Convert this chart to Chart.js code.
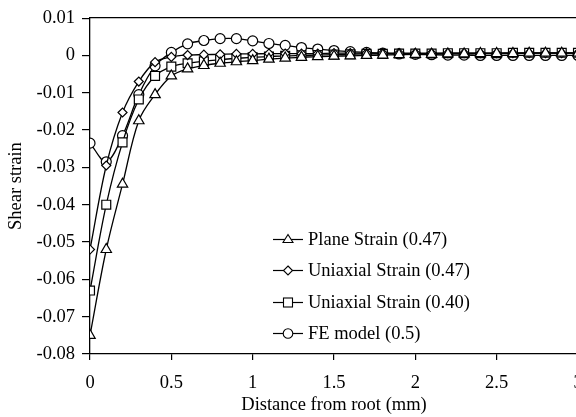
<!DOCTYPE html>
<html>
<head>
<meta charset="utf-8">
<script src="https://cdn.jsdelivr.net/npm/chart.js@4.4.1/dist/chart.umd.min.js"></script>
<style>
  body { margin: 0; overflow: hidden; background: #fff; }
  #wrap { position: relative; width: 600px; height: 417px; }
  #legend { position: absolute; left: 273px; top: 224px; font-family: "Liberation Serif", "Times New Roman", serif; font-size: 18.5px; color: #000; }
  #legend .row { height: 31.3px; display: flex; align-items: center; white-space: nowrap; }
  #legend svg { margin-right: 5px; }
</style>
</head>
<body>
<div id="wrap">
  <canvas id="chart" width="600" height="417"></canvas>
  <div id="legend"></div>
</div>
<script>
// distance from root (mm), every 0.1 mm
const distance = [0, 0.1, 0.2, 0.3, 0.4, 0.5, 0.6, 0.7, 0.8, 0.9, 1.0, 1.1, 1.2, 1.3, 1.4, 1.5,
    1.6, 1.7, 1.8, 1.9, 2.0, 2.1, 2.2, 2.3, 2.4, 2.5, 2.6, 2.7, 2.8, 2.9, 3.0]
const planeStrain = [-0.075, -0.052, -0.0345, -0.0175, -0.0105, -0.0055, -0.0036, -0.0027, -0.0021, -0.0017,
    -0.0014, -0.001, -0.0007, -0.0005, -0.0003, -0.0002, -0.0001, 0, 0.0001, 0.0002, 0.0003,
    0.0003, 0.0004, 0.0004, 0.0005, 0.0005, 0.0005, 0.0006, 0.0006, 0.0006, 0.0006]
const uniaxial47 = [-0.052, -0.0295, -0.0153, -0.007, -0.0018, -0.0004, 0.0001, 0.0002, 0.0003, 0.0004,
    0.0004, 0.0005, 0.0005, 0.0005, 0.0005, 0.0006, 0.0006, 0.0006, 0.0006, 0.0006, 0.0006,
    0.0006, 0.0006, 0.0006, 0.0006, 0.0006, 0.0006, 0.0006, 0.0006, 0.0006, 0.0006]
const uniaxial40 = [-0.063, -0.040, -0.0233, -0.0118, -0.0055, -0.003, -0.0021, -0.0016, -0.0011, -0.0008,
    -0.0005, -0.0003, -0.0001, 0, 0.0001, 0.0002, 0.0003, 0.0004, 0.0004, 0.0005, 0.0005,
    0.0005, 0.0006, 0.0006, 0.0006, 0.0006, 0.0007, 0.0007, 0.0007, 0.0007, 0.0007]
const feModel = [-0.0235, -0.0285, -0.0215, -0.0105, -0.0028, 0.0008, 0.0031, 0.004, 0.0045, 0.0045,
    0.0039, 0.0032, 0.0027, 0.0021, 0.0017, 0.0013, 0.001, 0.0008, 0.0006, 0.0004, 0.0003,
    0.0002, 0.0001, 0.0001, 0, 0, 0, 0, 0, 0, 0]
const seriesNames = ['Plane Strain (0.47)', 'Uniaxial Strain (0.47)', 'Uniaxial Strain (0.40)', 'FE model (0.5)']
const yTicks = [0.01, 0, -0.01, -0.02, -0.03, -0.04, -0.05, -0.06, -0.07, -0.08]

const serif = '"Liberation Serif", "Times New Roman", serif'
const styles = [
    {pointStyle: 'triangle', pointRadius: 6},
    {pointStyle: 'rectRot', pointRadius: 4.5},
    {pointStyle: 'rect', pointRadius: 6.3},
    {pointStyle: 'circle', pointRadius: 5}
]
const allSeries = [planeStrain, uniaxial47, uniaxial40, feModel]

const datasets = allSeries.map((vals, i) => ({
    label: seriesNames[i],
    data: distance.map((d, j) => ({x: d, y: vals[j]})),
    borderColor: '#000',
    borderWidth: 1.3,
    backgroundColor: '#fff',
    pointBackgroundColor: '#fff',
    pointBorderColor: '#000',
    pointBorderWidth: 1.2,
    pointStyle: styles[i].pointStyle,
    pointRadius: styles[i].pointRadius,
    tension: 0.35,
    fill: false
}))

Chart.defaults.font.family = serif
Chart.defaults.color = '#000'

const chart = new Chart(document.getElementById('chart'), {
    type: 'line',
    data: {datasets: datasets},
    options: {
        responsive: false,
        animation: false,
        layout: {padding: {top: 14, right: 22, bottom: 0, left: 0}},
        plugins: {legend: {display: false}, tooltip: {enabled: false}},
        scales: {
            x: {
                type: 'linear', min: 0, max: 3,
                ticks: {stepSize: 0.5, font: {size: 18.5}, padding: 12, maxRotation: 0,
                    callback: v => String(v)},
                grid: {drawOnChartArea: false, tickLength: 6, tickColor: '#000', lineWidth: 1.2},
                border: {color: '#000', width: 1.3},
                title: {display: true, text: 'Distance from root (mm)', font: {size: 18.5}, padding: {top: 0, bottom: 1}},
                afterFit: s => { s.height = 63 }
            },
            xTop: {
                type: 'linear', position: 'top', min: 0, max: 3,
                ticks: {display: false},
                grid: {display: false},
                border: {color: '#000', width: 1.3},
                afterFit: s => { s.height = 0 }
            },
            y: {
                min: -0.08, max: 0.01,
                afterBuildTicks: s => { s.ticks = yTicks.map(v => ({value: v})) },
                ticks: {font: {size: 18.5}, padding: 7,
                    callback: v => v === 0 ? '0' : (Math.round(v * 100) / 100).toFixed(2)},
                grid: {drawOnChartArea: false, tickLength: 8, tickColor: '#000', lineWidth: 1.2},
                border: {color: '#000', width: 1.3},
                title: {display: true, text: 'Shear strain', font: {size: 18.5}, padding: {top: 5, bottom: 0}},
                afterFit: s => { s.width = 90 }
            }
        }
    }
})

// legend: line with marker, then label
const icons = {
    triangle: '<polygon points="15,1.5 20,9.5 10,9.5" fill="#fff" stroke="#000" stroke-width="1.1"/>',
    rectRot: '<polygon points="15,2 19.5,6.5 15,11 10.5,6.5" fill="#fff" stroke="#000" stroke-width="1.1"/>',
    rect: '<rect x="10.5" y="2" width="9" height="9" fill="#fff" stroke="#000" stroke-width="1.1"/>',
    circle: '<circle cx="15" cy="6.5" r="4.8" fill="#fff" stroke="#000" stroke-width="1.1"/>'
}
const legendBox = document.getElementById('legend')
datasets.forEach(ds => {
    const row = document.createElement('div')
    row.className = 'row'
    row.innerHTML = '<svg width="30" height="13"><line x1="0" y1="6.5" x2="30" y2="6.5" stroke="#000" stroke-width="1.2"/>' +
        icons[ds.pointStyle] + '</svg><span>' + ds.label + '</span>'
    legendBox.appendChild(row)
})
</script>
</body>
</html>
